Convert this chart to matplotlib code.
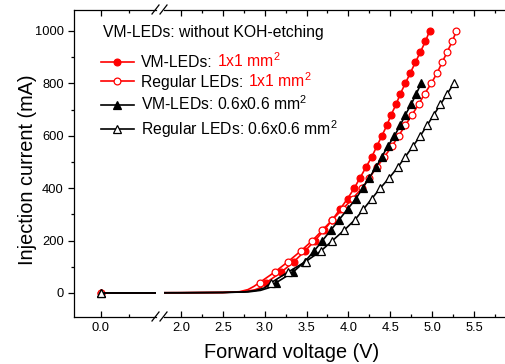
import matplotlib
matplotlib.use('Agg')
import matplotlib.pyplot as plt
from matplotlib.lines import Line2D
from matplotlib.text import Annotation

# I-V data (voltage in V, current in mA)
# first 6 points of each series are the unmarked low-current part of the trace
vm_1x1_v = [0.0, 2.0, 2.5, 2.75, 2.88, 2.96,
            3.02, 3.20, 3.35, 3.48, 3.60, 3.71, 3.81, 3.90, 3.99, 4.07, 4.14, 4.21, 4.28,
            4.34, 4.40, 4.46, 4.51, 4.57, 4.62, 4.68, 4.74, 4.80, 4.86, 4.92, 4.97]
vm_1x1_i = [0, 1, 2, 5, 12, 22,
            40, 80, 120, 160, 200, 240, 280, 320, 360, 400, 440, 480, 520,
            560, 600, 640, 680, 720, 760, 800, 840, 880, 920, 960, 1000]

reg_1x1_v = [0.0, 2.0, 2.5, 2.7, 2.8, 2.87,
             2.94, 3.12, 3.28, 3.43, 3.57, 3.69, 3.81, 3.93, 4.05, 4.16, 4.25, 4.34, 4.43,
             4.52, 4.60, 4.68, 4.76, 4.84, 4.91, 4.99, 5.06, 5.12, 5.18, 5.24, 5.29]
reg_1x1_i = [0, 1, 2, 5, 13, 25,
             40, 80, 120, 160, 200, 240, 280, 320, 360, 400, 440, 480, 520,
             560, 600, 640, 680, 720, 760, 800, 840, 880, 920, 960, 1000]

vm_06_v = [0.0, 2.0, 2.5, 2.8, 2.95, 3.05,
           3.14, 3.34, 3.48, 3.59, 3.69, 3.79, 3.89, 3.99, 4.09, 4.17, 4.25, 4.33, 4.40,
           4.47, 4.55, 4.62, 4.68, 4.75, 4.81, 4.87]
vm_06_i = [0, 1, 2, 4, 10, 20,
           40, 80, 120, 160, 200, 240, 280, 320, 360, 400, 440, 480, 520,
           560, 600, 640, 680, 720, 760, 800]

reg_06_v = [0.0, 2.0, 2.5, 2.75, 2.9, 3.0,
            3.08, 3.28, 3.49, 3.67, 3.81, 3.95, 4.08, 4.18, 4.28, 4.38, 4.49, 4.59, 4.68,
            4.77, 4.86, 4.94, 5.02, 5.10, 5.18, 5.26]
reg_06_i = [0, 1, 2, 4, 10, 20,
            40, 80, 120, 160, 200, 240, 280, 320, 360, 400, 440, 480, 520,
            560, 600, 640, 680, 720, 760, 800]

legend_labels = ['VM-LEDs:', 'Regular LEDs:', 'VM-LEDs: 0.6x0.6 mm$^2$', 'Regular LEDs: 0.6x0.6 mm$^2$']
red_part = '1x1 mm$^2$'
title_text = 'VM-LEDs: without KOH-etching'

plt.rcParams['font.family'] = 'Liberation Sans'
plt.rcParams['mathtext.default'] = 'regular'

W, H = 506, 364
fig = plt.figure(figsize=(W / 100, H / 100), dpi=100)


def box(x0, y0, x1, y1):
    return [x0 / W, 1 - y1 / H, (x1 - x0) / W, (y1 - y0) / H]


ax_l = fig.add_axes(box(74, 10, 156.5, 317))
ax_r = fig.add_axes(box(164, 10, 520, 317))

styles = [
    (vm_1x1_v, vm_1x1_i, dict(color='red', marker='o', mfc='red', mec='red', ms=4.9)),
    (reg_1x1_v, reg_1x1_i, dict(color='red', marker='o', mfc='white', mec='red', ms=4.9)),
    (vm_06_v, vm_06_i, dict(color='black', marker='^', mfc='black', mec='black', ms=5.5)),
    (reg_06_v, reg_06_i, dict(color='black', marker='^', mfc='white', mec='black', ms=5.5)),
]

handles = []
for v, i, st in styles:
    marks = [0] + list(range(6, len(v)))
    for ax in (ax_l, ax_r):
        ax.plot(v, i, lw=1.2, mew=0.9, markevery=marks, **st)
    handles.append(Line2D([], [], lw=1.2, mew=0.9, **st))

ylim = (-91.6, 1080)
ax_l.set_xlim(-0.241, 0.496)
ax_r.set_xlim(1.797, 6.05)
for ax in (ax_l, ax_r):
    ax.set_ylim(*ylim)
    for s in ax.spines.values():
        s.set_linewidth(0.9)
    ax.tick_params(axis='x', which='both', direction='in', top=True, labelsize=9.3, pad=3.5, width=0.9)
    ax.tick_params(axis='x', which='major', length=4.3)
    ax.tick_params(axis='x', which='minor', length=2.2)

ax_l.spines['right'].set_visible(False)
ax_l.set_xticks([0.0])
ax_l.set_xticks([0.25], minor=True)
ax_l.set_xticklabels(['0.0'])
ax_l.set_yticks([0, 200, 400, 600, 800, 1000])
ax_l.set_yticks([100, 300, 500, 700, 900], minor=True)
ax_l.tick_params(axis='y', which='both', direction='out', labelsize=9.3, pad=3, width=0.9)
ax_l.tick_params(axis='y', which='major', length=4.3)
ax_l.tick_params(axis='y', which='minor', length=2.2)

ax_r.spines['left'].set_visible(False)
ax_r.spines['right'].set_visible(False)
ax_r.set_xticks([2.0, 2.5, 3.0, 3.5, 4.0, 4.5, 5.0, 5.5])
ax_r.set_xticklabels(['2.0', '2.5', '3.0', '3.5', '4.0', '4.5', '5.0', '5.5'])
ax_r.set_xticks([2.25, 2.75, 3.25, 3.75, 4.25, 4.75, 5.25, 5.75], minor=True)
ax_r.tick_params(axis='y', which='both', left=False, labelleft=False)

# axis-break marks
for yb in (316.5, 9.5):
    for xb in (152, 160):
        fig.add_artist(Line2D([xb / W, (xb + 7) / W], [1 - (yb + 4.5) / H, 1 - (yb - 4.5) / H],
                              transform=fig.transFigure, color='black', lw=0.9))

fig.text(292 / W, 1 - 353 / H, 'Forward voltage (V)', ha='center', va='center', fontsize=14.3)
fig.text(28 / W, 1 - 170 / H, 'Injection current (mA)', rotation=90, ha='center', va='center', fontsize=14.3)
fig.text(103 / W, 1 - 33 / H, title_text, ha='left', va='center', fontsize=11.3)

leg = fig.legend(handles, legend_labels, loc='upper left', bbox_to_anchor=(101 / W, 1 - 55 / H),
                 frameon=False, borderpad=0, borderaxespad=0, handlelength=2.1, handletextpad=0.45,
                 labelspacing=0.3, numpoints=1, fontsize=11.3)
# red size text right after the first two legend labels
for t in leg.get_texts()[:2]:
    ann = Annotation(red_part, xy=(1, 0), xycoords=t, xytext=(3.2, 0), textcoords='offset points',
                     color='red', fontsize=11.3, ha='left', va='bottom', annotation_clip=False)
    ann.set_zorder(10)
    fig.add_artist(ann)

fig.savefig('out.png', dpi=100)
